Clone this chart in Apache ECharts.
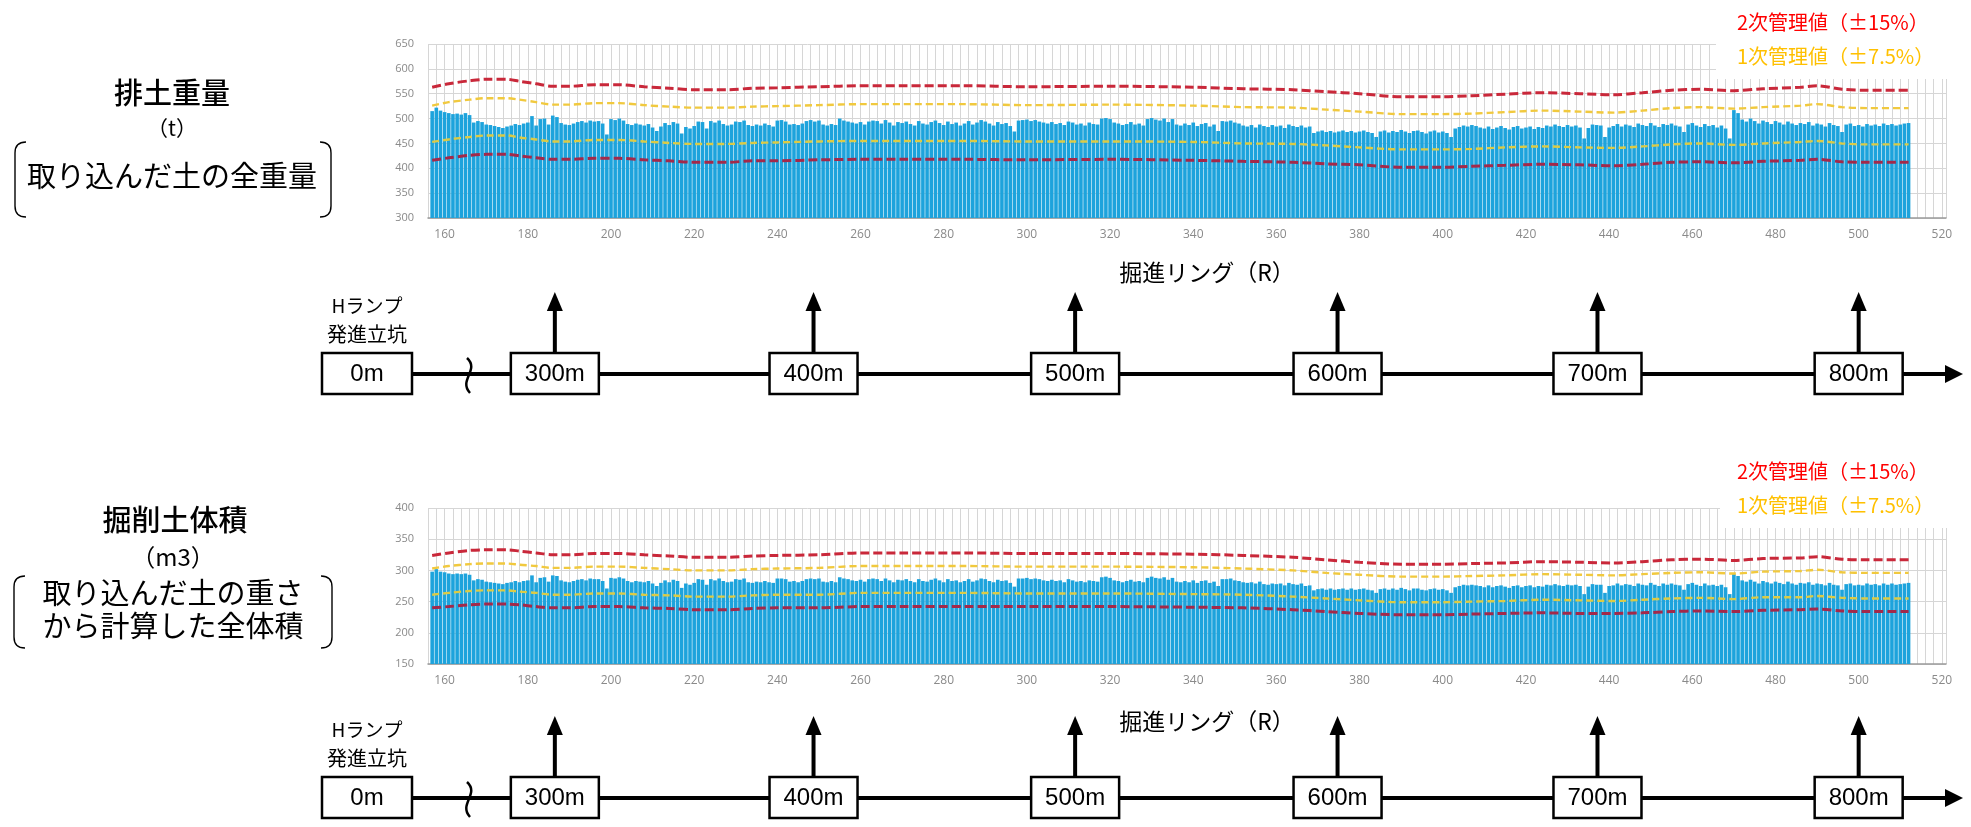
<!DOCTYPE html>
<html><head><meta charset="utf-8">
<script src="https://cdn.jsdelivr.net/npm/echarts@6/dist/echarts.min.js"></script>
<style>html,body{margin:0;padding:0;background:#fff}#c{width:1971px;height:827px}</style>
</head><body><div id="c"></div>
<script>
// ---- data ----
const ringStart = 157; // first ring of bar series (consecutive rings)
const weight = [
515,522,516,513,511,509,510,508,511,507,
492,495,493,488,487,485,483,481,484,486,
489,487,490,492,505,486,499,500,488,506,
503,491,488,487,490,493,495,492,496,494,
495,490,468,499,497,500,496,489,487,490,
488,486,489,482,475,484,491,487,493,490,
470,483,480,485,494,493,480,495,492,496,
489,486,488,494,493,496,487,485,488,486,
490,487,484,496,497,494,488,489,487,490,
495,497,494,496,488,486,489,487,500,496,
494,492,490,493,488,494,496,495,490,497,
492,486,493,491,494,489,486,495,490,488,
493,496,491,487,494,489,492,486,490,495,
488,492,497,494,490,486,493,489,491,485,
474,496,497,498,495,497,494,492,490,493,
489,491,487,494,492,488,490,486,492,489,
488,500,501,499,492,490,487,489,493,488,
490,486,499,501,498,496,500,493,499,488,
486,490,487,492,485,489,491,484,488,475,
495,494,496,492,490,486,484,487,482,488,
485,483,487,484,486,481,488,485,483,486,
482,484,471,474,476,473,475,472,474,476,
473,475,472,474,476,473,471,463,474,476,
472,475,473,477,474,471,475,476,473,470,
474,476,472,474,471,463,480,483,486,484,
487,485,482,480,484,479,482,485,481,478,
483,485,480,482,484,479,483,481,486,484,
488,485,483,487,484,486,482,460,481,488,
487,486,463,482,485,489,484,488,486,483,
490,487,485,491,486,483,489,487,490,486,
484,473,488,491,486,483,489,485,487,482,
486,480,460,517,511,498,494,500,495,490,
496,493,489,495,492,488,494,490,487,491,
489,493,486,490,488,484,491,487,485,473,
488,490,485,487,484,489,486,488,485,490,
487,489,486,488,490,491];
const volume = [
298,302,298,297,295,294,295,294,295,293,
284,286,285,282,281,280,279,278,280,281,
283,281,283,284,292,281,288,289,282,292,
291,284,282,281,283,285,286,284,287,286,
286,283,271,288,287,289,287,283,281,283,
282,281,283,279,275,280,284,281,285,283,
272,279,277,280,286,285,277,286,284,287,
283,281,282,286,285,287,281,280,282,281,
283,281,280,287,287,286,282,283,281,283,
286,287,286,287,282,281,283,281,289,287,
286,284,283,285,282,286,287,286,283,287,
284,281,285,284,286,283,281,286,283,282,
285,287,284,281,286,283,284,281,283,286,
282,284,287,286,283,281,285,283,284,280,
274,287,287,288,286,287,286,284,283,285,
283,284,281,286,284,282,283,281,284,283,
282,289,290,288,284,283,281,283,285,282,
283,281,288,290,288,287,289,285,288,282,
281,283,281,284,280,283,284,280,282,275,
286,286,287,284,283,281,280,281,279,282,
278,277,279,278,279,276,280,278,277,279,
275,276,268,270,271,269,271,269,270,271,
269,271,269,270,271,269,268,264,270,271,
269,271,269,272,270,268,271,271,269,268,
270,271,269,270,268,264,273,275,277,276,
277,276,275,273,276,273,275,276,274,272,
275,276,273,275,276,273,275,274,277,276,
278,276,275,277,276,277,275,262,274,278,
277,277,264,275,276,279,276,278,277,275,
279,277,276,280,277,275,279,277,279,277,
276,269,278,280,277,275,279,276,277,275,
277,273,262,294,291,284,282,285,282,279,
283,281,279,282,280,278,282,279,277,280,
279,281,277,279,278,276,280,277,276,269,
278,279,276,277,276,279,277,278,276,279,
277,279,277,278,279,280];

const lineRings = [157,161,166,170,175,178,182,186,190,196,202,208,214,220,228,234,240,250,260,270,285,300,320,340,352,364,372,380,390,400,407,415,424,433,441,448,455,462,470,477,486,490,496,502,512];
// 排土重量 management limits
const wUp2 = [563,570,576,579,579,575,570,565,565,568,568,564,561,558,558,561,562,564,566,566,566,564,565,563,560,558,554,550,544,544,546,549,552,550,548,552,557,559,556,560,563,566,559,557,557];
const wUp1 = [526,533,538,541,541,538,533,528,528,531,531,527,524,522,522,524,525,527,529,529,529,527,528,526,523,522,518,514,509,509,510,513,516,514,512,516,521,523,520,523,526,529,523,521,521];
const wLo1 = [453,458,463,466,466,462,458,454,454,457,457,454,451,449,449,451,452,454,455,455,455,454,454,453,450,449,446,442,438,438,439,442,444,442,441,444,448,450,447,450,453,455,450,448,448];
const wLo2 = [416,421,426,428,428,425,421,418,418,420,420,417,415,412,412,415,415,417,418,418,418,417,418,416,414,412,409,407,402,402,404,406,408,407,405,408,412,413,411,414,416,418,413,412,412];
// 掘削土体積 management limits
const vUp2 = [324,328,332,333,333,331,328,325,325,327,327,325,323,321,321,323,324,325,328,328,328,327,327,326,324,321,317,313,310,310,311,312,314,313,312,314,317,318,316,319,320,322,318,317,317];
const vUp1 = [303,307,310,311,311,309,307,304,304,306,306,304,302,300,300,302,303,304,307,307,307,306,306,305,303,300,296,293,290,290,291,292,294,293,292,294,296,297,295,298,299,301,297,296,296];
const vLo1 = [261,264,267,268,268,266,264,261,261,263,263,261,260,258,258,260,261,261,264,264,264,263,263,262,261,258,255,252,249,249,250,251,253,252,251,253,255,256,254,257,257,259,256,255,255];
const vLo2 = [240,242,245,246,246,245,242,240,240,242,242,240,239,237,237,239,240,240,242,242,242,242,242,241,240,237,234,231,229,229,230,231,232,231,231,232,234,235,234,236,237,238,235,234,234];

const distLabels = ['300m','400m','500m','600m','700m','800m'];
const distRings  = [186.5, 248.7, 311.6, 374.7, 437.2, 500];
const legend2 = '2次管理値（±15%）';
const legend1 = '1次管理値（±7.5%）';
const axisTitle = '掘進リング（R）';

// ---- chart ----
const chart = echarts.init(document.getElementById('c'));
const barPts = arr => arr.map((v, i) => [ringStart + i, v]);
const linePts = arr => arr.map((v, i) => [lineRings[i], v]);
const FONT_NUM = '"Open Sans", "DejaVu Sans", sans-serif';
const FONT_JP = '"Noto Sans CJK JP", sans-serif';

function xAx(gi) {
  return {
    type: 'value', gridIndex: gi, min: 156, max: 521, interval: 2,
    axisLine: { show: true, lineStyle: { color: '#9a9a9a', width: 1.5 } },
    axisTick: { show: false },
    axisLabel: { formatter: v => (v % 20 === 0 ? String(v) : ''), color: '#8a8a8a', fontSize: 12, margin: 11, fontFamily: FONT_NUM },
    splitLine: { show: true, lineStyle: { color: '#d6d6d6', width: 1 } }
  };
}
function yAx(gi, mn, mx) {
  return {
    type: 'value', gridIndex: gi, min: mn, max: mx, interval: 50,
    axisLine: { show: false }, axisTick: { show: false },
    axisLabel: { color: '#8a8a8a', fontSize: 11, margin: 14, fontFamily: FONT_NUM },
    splitLine: { show: true, lineStyle: { color: '#d6d6d6', width: 1 } }
  };
}
function dashed(gi, arr, color, w, dash, z) {
  return {
    type: 'line', xAxisIndex: gi, yAxisIndex: gi, data: linePts(arr), smooth: 0.3,
    symbol: 'none', z: z, silent: true,
    lineStyle: { color: color, width: w, type: dash }
  };
}
function bars(gi, arr) {
  return {
    type: 'bar', xAxisIndex: gi, yAxisIndex: gi, data: barPts(arr), barWidth: 3.6,
    itemStyle: { color: '#1DA3DC' }, z: 2, silent: true
  };
}

chart.setOption({
  animation: false,
  backgroundColor: '#fff',
  grid: [
    { left: 428, top: 44, width: 1518, height: 174 },
    { left: 428, top: 508, width: 1518, height: 156 }
  ],
  xAxis: [xAx(0), xAx(1)],
  yAxis: [yAx(0, 300, 650), yAx(1, 150, 400)],
  series: [
    bars(0, weight),
    dashed(0, wUp2, '#C9283A', 3, [9, 4], 5),
    dashed(0, wUp1, '#F1C93E', 2.4, [7, 4], 5),
    dashed(0, wLo1, '#DCCB45', 2.4, [7, 4], 5),
    dashed(0, wLo2, '#A3294A', 3, [9, 4], 5),
    bars(1, volume),
    dashed(1, vUp2, '#C9283A', 3, [9, 4], 5),
    dashed(1, vUp1, '#F1C93E', 2.4, [7, 4], 5),
    dashed(1, vLo1, '#DCCB45', 2.4, [7, 4], 5),
    dashed(1, vLo2, '#A3294A', 3, [9, 4], 5)
  ]
});

// ---- annotations ----
const g = [];
function txt(text, x, y, size, color, extra) {
  g.push({ type: 'text', z: 110, silent: true, style: Object.assign({
    text: text, x: x, y: y, fill: color || '#000', fontSize: size, fontFamily: FONT_JP,
    align: 'center', verticalAlign: 'middle' }, extra || {}) });
}
function ln(x1, y1, x2, y2, w) {
  g.push({ type: 'line', z: 105, silent: true, shape: { x1, y1, x2, y2 }, style: { stroke: '#000', lineWidth: w } });
}
function quad(x1, y1, cx, cy, x2, y2, w) {
  g.push({ type: 'bezierCurve', z: 105, silent: true, shape: { x1, y1, x2, y2, cpx1: cx, cpy1: cy }, style: { stroke: '#000', lineWidth: w, fill: null } });
}
function bracket(xo, xi, yt, yb) {
  quad(xi, yt, xo, yt, xo, yt + 11, 1.4);
  ln(xo, yt + 11, xo, yb - 11, 1.4);
  quad(xo, yb - 11, xo, yb, xi, yb, 1.4);
}
// legend boxes (white area covering the grid corner)
g.push({ type: 'rect', z: 100, silent: true, shape: { x: 1716, y: 0, width: 255, height: 79 }, style: { fill: '#fff' } });
g.push({ type: 'rect', z: 100, silent: true, shape: { x: 1720, y: 440, width: 251, height: 88 }, style: { fill: '#fff' } });
txt(legend2, 1737, 22, 20, '#FF0000', { align: 'left' });
txt(legend1, 1737, 56, 20, '#FFC000', { align: 'left' });
txt(legend2, 1737, 471, 20, '#FF0000', { align: 'left' });
txt(legend1, 1737, 505, 20, '#FFC000', { align: 'left' });
// axis titles
txt(axisTitle, 1207, 272, 23, '#000');
txt(axisTitle, 1207, 721, 23, '#000');
// left labels
txt('排土重量', 172, 93, 29, '#000', { fontWeight: 500 });
txt('（t）', 172, 128, 21, '#000');
txt('取り込んだ土の全重量', 172, 176, 29, '#000');
bracket(15, 26, 142, 217);
bracket(331, 320, 142, 217);
txt('掘削土体積', 175, 520, 29, '#000', { fontWeight: 500 });
txt('（m3）', 173, 557, 24, '#000');
txt('取り込んだ土の重さ', 173, 593, 29, '#000');
txt('から計算した全体積', 173, 626, 29, '#000');
bracket(14, 25, 576, 648);
bracket(332, 321, 576, 648);

function scaleBar(L) {
  ln(412, L, 1950, L, 4);
  g.push({ type: 'polygon', z: 106, silent: true, shape: { points: [[1945, L - 9], [1945, L + 9], [1963, L]] }, style: { fill: '#000' } });
  // break symbol
  g.push({ type: 'bezierCurve', z: 107, silent: true, shape: { x1: 467, y1: L - 16, cpx1: 480, cpy1: L - 4, cpx2: 458, cpy2: L + 6, x2: 470, y2: L + 19 }, style: { stroke: '#000', lineWidth: 2.5, fill: null } });
  g.push({ type: 'rect', z: 108, silent: true, shape: { x: 322, y: L - 21, width: 90, height: 41 }, style: { fill: '#fff', stroke: '#000', lineWidth: 2.5 } });
  txt('0m', 367, L, 24, '#000', { fontFamily: '"Liberation Sans", Arial, sans-serif' });
  txt('Hランプ', 367, L - 68, 19, '#000');
  txt('発進立坑', 367, L - 40, 20, '#000');
  distRings.forEach((r, i) => {
    const cx = chart.convertToPixel({ xAxisIndex: 0 }, r);
    g.push({ type: 'rect', z: 108, silent: true, shape: { x: cx - 44, y: L - 21, width: 88, height: 41 }, style: { fill: '#fff', stroke: '#000', lineWidth: 2.5 } });
    txt(distLabels[i], cx, L, 24, '#000', { fontFamily: '"Liberation Sans", Arial, sans-serif' });
    ln(cx, L - 21, cx, L - 64, 4);
    g.push({ type: 'polygon', z: 106, silent: true, shape: { points: [[cx - 8, L - 63], [cx + 8, L - 63], [cx, L - 82]] }, style: { fill: '#000' } });
  });
}
scaleBar(374);
scaleBar(798);

chart.setOption({ graphic: { elements: g } });
</script>
</body></html>
